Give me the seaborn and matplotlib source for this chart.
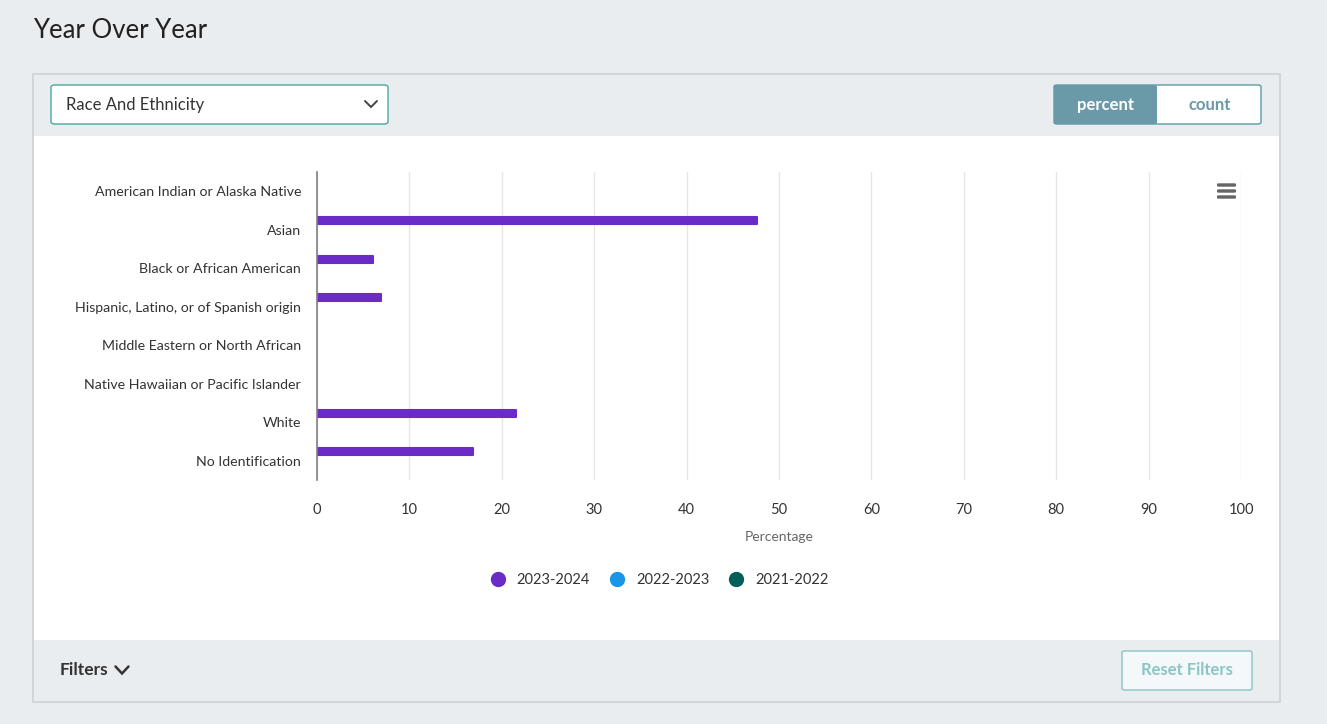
#!/usr/bin/env python3
# Year over year: race & ethnicity share (percent), horizontal grouped bars

import pandas as pd
import seaborn as sns
import matplotlib.pyplot as plt
from matplotlib.patches import FancyBboxPatch
from matplotlib.lines import Line2D

CATEGORIES = [
    "American Indian or Alaska Native",
    "Asian",
    "Black or African American",
    "Hispanic, Latino, or of Spanish origin",
    "Middle Eastern or North African",
    "Native Hawaiian or Pacific Islander",
    "White",
    "No Identification",
]
YEARS   = ["2023-2024", "2022-2023", "2021-2022"]
PCT_2324 = [0.0, 47.6, 6.1, 6.9, 0.0, 0.0, 21.5, 16.9]
PCT_2223 = [0.0, 0.0, 0.0, 0.0, 0.0, 0.0, 0.0, 0.0]
PCT_2122 = [0.0, 0.0, 0.0, 0.0, 0.0, 0.0, 0.0, 0.0]
PALETTE  = ["#6a2bc6", "#1b95e8", "#055e5a"]
X_TICKS  = list(range(0, 101, 10))

W, H = 1327, 724
BG = "#e9edf0"
TEAL = "#6a9aa8"


def px(x, y):
    return x / W, 1 - y / H


def box(fig, x0, y0, x1, y1, fc, ec="none", lw=1, r=0):
    (fx0, fy1), (fx1, fy0) = px(x0, y0), px(x1, y1)
    style = f"round,pad=0,rounding_size={r / W}" if r else "square,pad=0"
    p = FancyBboxPatch((fx0, fy0), fx1 - fx0, fy1 - fy0, boxstyle=style,
                       transform=fig.transFigure, fc=fc, ec=ec, lw=lw)
    fig.patches.append(p)
    return p


def chevron(fig, cx, cy, w=13, h=7, color="#444444", lw=1.4):
    xs = [cx - w / 2, cx, cx + w / 2]
    ys = [cy - h / 2, cy + h / 2, cy - h / 2]
    pts = [px(x, y) for x, y in zip(xs, ys)]
    fig.lines.append(Line2D([p[0] for p in pts], [p[1] for p in pts], transform=fig.transFigure,
                            color=color, lw=lw, solid_joinstyle="miter"))


def main():
    df = pd.DataFrame({
        "category": CATEGORIES * 3,
        "year": [y for y in YEARS for _ in CATEGORIES],
        "pct": PCT_2324 + PCT_2223 + PCT_2122,
    })

    sns.set_theme(style="white")
    plt.rcParams["font.family"] = ["Lato", "DejaVu Sans"]

    fig = plt.figure(figsize=(W / 100, H / 100), dpi=100)
    fig.patch.set_facecolor(BG)

    # card: header / white body / footer
    box(fig, 33, 74, 1280, 702, BG, ec="#cdd2d6", lw=1.2)
    box(fig, 34, 136, 1279, 640, "white")

    fig.text(*px(33, 31), "Year Over Year", fontsize=18.5, color="#222222", va="center")

    # dropdown
    box(fig, 51, 85, 388, 124, "white", ec="#4aa8a0", lw=1.0, r=4)
    fig.text(*px(66, 105), "Race And Ethnicity", fontsize=12, color="#333333", va="center")
    chevron(fig, 371, 104, w=12, h=6)

    # percent / count toggle
    box(fig, 1054, 85, 1261, 124, "white", ec="#5a9aa6", lw=1.0, r=3)
    box(fig, 1054, 85, 1157, 124, TEAL, r=3)
    fig.text(*px(1106, 105), "percent", fontsize=12, color="white", weight="bold", va="center", ha="center")
    fig.text(*px(1210, 105), "count", fontsize=12, color=TEAL, weight="bold", va="center", ha="center")

    # footer
    fig.text(*px(60, 670), "Filters", fontsize=12.5, color="#333333", weight="bold", va="center")
    chevron(fig, 122, 670, w=13, h=7, color="#333333", lw=1.8)
    box(fig, 1122, 651, 1252, 690, "#f5f8fa", ec="#88c4c4", lw=1.0, r=3)
    fig.text(*px(1187, 670), "Reset Filters", fontsize=12, color="#8cc5c5", weight="bold",
             va="center", ha="center")

    # plot area
    l, t = px(317, 172)
    r_, b = px(1241, 480)
    ax = fig.add_axes([l, b, r_ - l, t - b])
    ax.set_zorder(3)
    ax.set_facecolor("none")

    sns.barplot(data=df, y="category", x="pct", hue="year", hue_order=YEARS, order=CATEGORIES,
                palette=PALETTE, orient="h", width=0.7, gap=0.2, saturation=1,
                legend=False, ax=ax, zorder=3)
    for p in ax.patches:
        if p.get_width() > 0:
            p.set_edgecolor(p.get_facecolor())
            p.set_linewidth(1.5)
            p.set_joinstyle("round")
        else:
            p.set_visible(False)

    ax.set_xlim(0, 100)
    ax.set_ylim(7.5, -0.5)
    ax.set_xticks(X_TICKS)
    ax.tick_params(axis="x", length=0, pad=16.5, labelsize=10.5, labelcolor="#333333")
    ax.tick_params(axis="y", length=0, pad=11.5, labelsize=10.2, labelcolor="#333333")
    ax.set_xlabel("Percentage", fontsize=10, color="#666666", labelpad=10)
    ax.set_ylabel("")
    ax.grid(True, axis="x", color="#e6e6e6", lw=1)
    for side in ("top", "right", "bottom"):
        ax.spines[side].set_visible(False)
    ax.spines["left"].set_color("#808080")
    ax.spines["left"].set_linewidth(1.2)
    ax.spines["left"].set_zorder(4)

    # hamburger menu icon (on top of the plot)
    for yy in (185, 191, 197):
        box(fig, 1217, yy - 1.7, 1236, yy + 1.7, "#666666", r=1.7).set_zorder(5)

    handles = [Line2D([], [], marker="o", ls="none", ms=10, mfc=c, mec=c) for c in PALETTE]
    leg = fig.legend(handles, YEARS, loc="center", bbox_to_anchor=px(656, 580), ncol=3, frameon=False,
                     fontsize=10.5, handletextpad=0.3, columnspacing=0.85, labelcolor="#333333")
    leg.set_zorder(5)

    fig.savefig("out.png", dpi=100, facecolor=BG)


if __name__ == "__main__":
    main()
